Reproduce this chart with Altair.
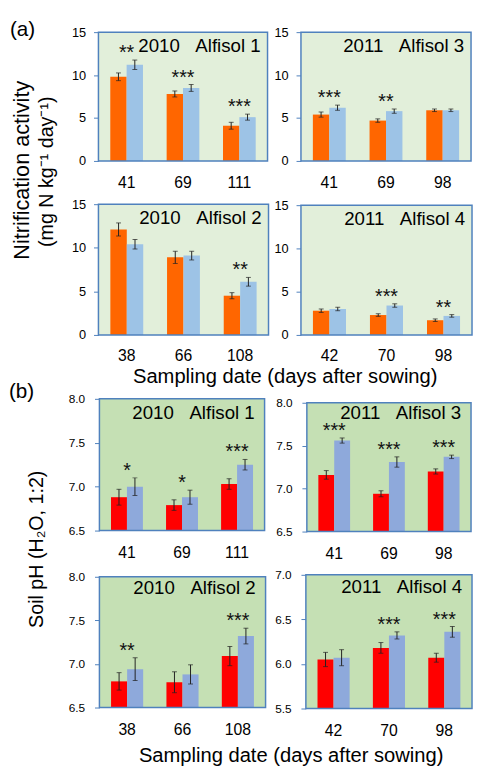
import altair as alt
import pandas as pd

# ---------------- data ----------------
dates = [["41", "69", "111"], ["41", "69", "98"], ["38", "66", "108"], ["42", "70", "98"]]
titles = ["2010\u00a0\u00a0\u00a0Alfisol 1", "2011\u00a0\u00a0\u00a0Alfisol 3",
          "2010\u00a0\u00a0\u00a0Alfisol 2", "2011\u00a0\u00a0\u00a0Alfisol 4"]
treatments = ["Control", "Treated"]

# (a) nitrification activity (mg N kg-1 day-1)
a_ctrl = [[9.8, 7.8, 4.1], [5.4, 4.7, 5.9], [12.1, 8.9, 4.5], [2.8, 2.3, 1.7]]
a_ctrl_se = [[0.45, 0.35, 0.4], [0.3, 0.2, 0.15], [0.75, 0.7, 0.35], [0.2, 0.15, 0.15]]
a_trt = [[11.2, 8.5, 5.1], [6.2, 5.8, 5.9], [10.4, 9.1, 6.1], [3.0, 3.4, 2.2]]
a_trt_se = [[0.55, 0.4, 0.35], [0.3, 0.25, 0.15], [0.55, 0.5, 0.5], [0.2, 0.2, 0.15]]
a_stars = [["**", "***", "***"], ["***", "**", ""], ["", "", "**"], ["", "***", "**"]]

# (b) soil pH (H2O, 1:2)
b_ctrl = [[6.88, 6.79, 7.03], [7.16, 6.94, 7.20], [6.80, 6.79, 7.09], [6.05, 6.18, 6.07]]
b_ctrl_se = [[0.09, 0.06, 0.06], [0.05, 0.035, 0.03], [0.1, 0.12, 0.11], [0.08, 0.06, 0.05]]
b_trt = [[7.00, 6.88, 7.25], [7.56, 7.31, 7.37], [6.94, 6.88, 7.32], [6.07, 6.32, 6.36]]
b_trt_se = [[0.1, 0.08, 0.06], [0.03, 0.06, 0.02], [0.13, 0.11, 0.09], [0.09, 0.04, 0.06]]
b_stars = [["*", "*", "***"], ["***", "***", "***"], ["**", "", "***"], ["", "***", "***"]]

a_ticks = [0, 5, 10, 15]
b_ticks = [[6.5, 7.0, 7.5, 8.0], [6.5, 7.0, 7.5, 8.0], [6.5, 7.0, 7.5, 8.0], [5.5, 6.0, 6.5, 7.0]]

XTITLE = "Sampling date (days after sowing)"

# ---------------- layout / style ----------------
W, H = 473, 763
# panel frames in pixels of the drawing area:
# (left, right, top, bottom, title baseline below top, x-label padding)
a_geo = [(92, 264, 18, 149, 20, 14), (298, 471, 18, 149, 20, 14),
         (92, 265, 193, 326, 20, 13), (298, 472, 194, 326, 20, 13)]
b_geo = [(93, 261, 391, 525, 21, 14), (304, 471, 395, 526, 16, 14),
         (93, 262, 572, 705, 18, 14), (303, 472, 570, 706, 19, 14)]

SANS = "Liberation Sans, Arial, sans-serif"
NARROW = "Liberation Sans Narrow, Arial Narrow, Liberation Sans, sans-serif"
FRAME = "#4F81BD"
A_COL = ["#FF6600", "#9DC3E6"]
B_COL = ["#FF0000", "#8EA9DB"]
A_BG = "#E2EFDA"
B_BG = "#C5E0B4"


def panel(dts, ctrl, cse, trt, tse, stars, title, yticks, yfmt, ylab_size, ylab_pad,
          geo, bg, colors, title_right):
    x0, x1, y0, y1, tdy, xpad = geo
    rows = []
    for i, d in enumerate(dts):
        rows.append(dict(date=d, trt="Control", fillc=colors[0], value=ctrl[i],
                         lo=ctrl[i] - cse[i], hi=ctrl[i] + cse[i]))
        rows.append(dict(date=d, trt="Treated", fillc=colors[1], value=trt[i],
                         lo=trt[i] - tse[i], hi=trt[i] + tse[i]))
    df = pd.DataFrame(rows)
    sdf = pd.DataFrame({
        "date": dts,
        "stars": stars,
        "top": [max(ctrl[i] + cse[i], trt[i] + tse[i]) for i in range(len(dts))],
    })
    ydom = [yticks[0], yticks[-1]]
    xaxis = alt.Axis(title=None, orient="bottom", offset=y1 - H, labelAngle=0, ticks=False,
                     tickSize=0, domain=False, grid=False, labelPadding=xpad, labelFont=NARROW,
                     labelFontSize=16, labelColor="black")
    xscale = alt.Scale(type="band", domain=dts, range=[x0, x1], paddingInner=0.42,
                       paddingOuter=0.21)
    xenc = alt.X("date:N", sort=dts, axis=xaxis, scale=xscale)
    xoff = alt.XOffset("trt:N", sort=treatments,
                       scale=alt.Scale(paddingInner=0, paddingOuter=0))
    yscale = alt.Scale(domain=ydom, range=[y1, y0], nice=False, zero=False)
    yaxis = alt.Axis(title=None, orient="left", offset=-x0, values=yticks, format=yfmt,
                     grid=False, domain=False, tickColor=FRAME, tickSize=5,
                     labelPadding=ylab_pad, labelFont=SANS, labelFontSize=ylab_size,
                     labelColor="black")

    one = pd.DataFrame({"z": [0]})
    bg_rect = alt.Chart(one).mark_rect(fill=bg, strokeWidth=0).encode(
        x=alt.value(x0), x2=alt.value(x1), y=alt.value(y0), y2=alt.value(y1))
    frame = alt.Chart(one).mark_rect(fill="transparent", stroke=FRAME, strokeWidth=1.5).encode(
        x=alt.value(x0), x2=alt.value(x1), y=alt.value(y0), y2=alt.value(y1))

    base = alt.Chart(df)
    bars = base.mark_bar().encode(
        x=xenc, xOffset=xoff,
        y=alt.Y("value:Q", scale=yscale, axis=yaxis),
        y2=alt.datum(ydom[0]),
        color=alt.Color("fillc:N", scale=None, legend=None),
    )
    rules = base.mark_rule(color="#222222", strokeWidth=1).encode(
        x=xenc, xOffset=xoff,
        y=alt.Y("lo:Q", scale=yscale, axis=yaxis), y2="hi:Q",
    )
    cap_lo = base.mark_tick(orient="horizontal", size=5, thickness=1, color="#222222").encode(
        x=xenc, xOffset=xoff, y=alt.Y("lo:Q", scale=yscale, axis=yaxis))
    cap_hi = base.mark_tick(orient="horizontal", size=5, thickness=1, color="#222222").encode(
        x=xenc, xOffset=xoff, y=alt.Y("hi:Q", scale=yscale, axis=yaxis))
    star_txt = alt.Chart(sdf).mark_text(font=SANS, fontSize=20, baseline="alphabetic",
                                        dy=-1, color="#111111").encode(
        x=xenc, y=alt.Y("top:Q", scale=yscale, axis=yaxis), text="stars:N")
    ttl = alt.Chart(pd.DataFrame({"t": [title]})).mark_text(
        font=SANS, fontSize=19, align="right", baseline="alphabetic", color="black").encode(
        x=alt.value(x1 - title_right), y=alt.value(y0 + tdy), text="t:N")

    return alt.layer(bg_rect, bars, rules, cap_lo, cap_hi, star_txt, ttl, frame)


def label(txt, x, y, size, angle=0, align="left", baseline="middle"):
    return alt.Chart(pd.DataFrame({"t": [txt]})).mark_text(
        font=SANS, fontSize=size, angle=angle, align=align, baseline=baseline,
        color="black").encode(x=alt.value(x), y=alt.value(y), text="t:N")


panels = []
for i in range(4):
    panels.append(panel(dates[i], a_ctrl[i], a_ctrl_se[i], a_trt[i], a_trt_se[i], a_stars[i],
                        titles[i], a_ticks, "d", 13, 8, a_geo[i], A_BG, A_COL, 7))
for i in range(4):
    panels.append(panel(dates[i], b_ctrl[i], b_ctrl_se[i], b_trt[i], b_trt_se[i], b_stars[i],
                        titles[i], b_ticks[i], ".1f", 12, 10, b_geo[i], B_BG, B_COL, 10))

texts = [
    label("(a)", 2, 16, 21),
    label("Nitrification activity", 14, 158.5, 22, angle=270, align="center"),
    label("(mg N kg\u207b\u00b9 day\u207b\u00b9)", 40, 160, 20, angle=270, align="center"),
    label(XTITLE, 282, 375, 20.5, align="center", baseline="alphabetic"),
    label("(b)", 1, 384, 21),
    label("Soil pH (H\u2082O, 1:2)", 30, 544, 20, angle=270, align="center"),
    label(XTITLE, 288, 760, 20.5, align="center", baseline="alphabetic"),
]

chart = alt.layer(*panels, *texts).resolve_scale(
    x="independent", y="independent", xOffset="independent"
).resolve_axis(
    x="independent", y="independent"
).properties(
    width=W, height=H, padding=0, background="white",
    autosize=alt.AutoSizeParams(type="none"),
).configure_view(strokeWidth=0)

chart.save("out.html", embed_options={"renderer": "svg", "actions": False})
